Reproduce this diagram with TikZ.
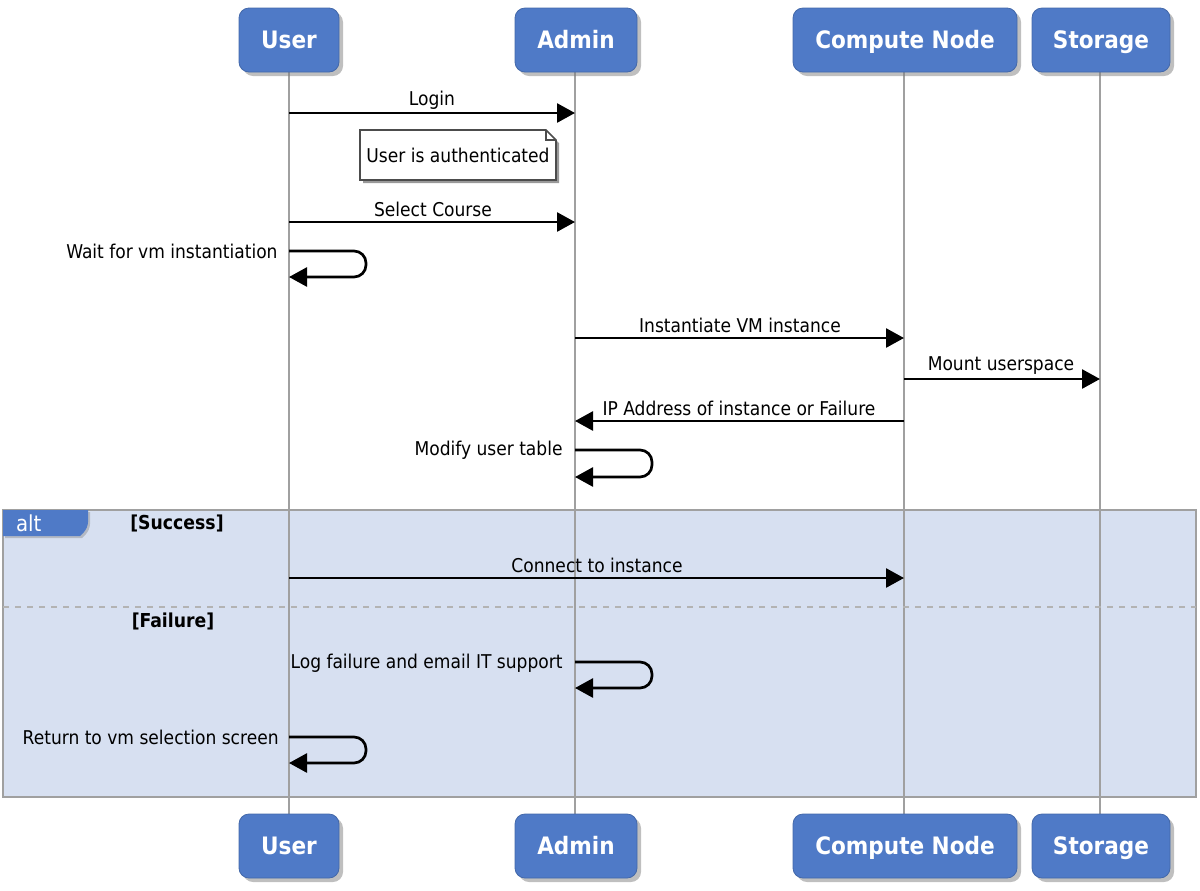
\documentclass[tikz,border=0pt]{standalone}
\usepackage{fontspec}
\setmainfont{DejaVu Sans Condensed}
\usetikzlibrary{arrows.meta,shadows}
\definecolor{boxblue}{HTML}{4F7AC7}
\definecolor{altfill}{HTML}{D7E0F1}
\definecolor{lifegray}{HTML}{A0A0A0}
\tikzset{
  actor/.style={draw=boxblue!85!black, fill=boxblue, rounded corners=5pt, minimum height=32pt, text=white, font=\fontsize{12}{14}\selectfont\bfseries, text height=11pt, text depth=2.5pt, drop shadow={opacity=0.5, shadow xshift=2pt, shadow yshift=-2pt}},
  msg/.style={line width=1.35pt, -{Triangle[length=9pt,width=9.5pt]}},
  lbl/.style={font=\fontsize{9.5}{11}\selectfont, inner sep=1pt},
  guard/.style={font=\fontsize{9.6}{11}\selectfont\bfseries},
  life/.style={draw=lifegray, line width=1pt},
}
\begin{document}
\begin{tikzpicture}[x=0.5pt,y=-0.5pt]
\useasboundingbox (0,0) rectangle (1200,890);
% alt frame
\fill[altfill] (3,510) rectangle (1196,797);
% lifelines
\coordinate (uT) at (289,72); \coordinate (uB) at (289,814);
\coordinate (aT) at (575,72); \coordinate (aB) at (575,814);
\coordinate (cT) at (904,72); \coordinate (cB) at (904,814);
\coordinate (sT) at (1100,72); \coordinate (sB) at (1100,814);
\draw[life] (uT) -- (uB); \draw[life] (aT) -- (aB);
\draw[life] (cT) -- (cB); \draw[life] (sT) -- (sB);
\draw[lifegray, line width=1.2pt] (3,510) rectangle (1196,797);
\draw[lifegray!80, dashed, line width=1pt] (3,607) -- (1196,607);
% alt tag
\fill[boxblue, drop shadow={opacity=0.4, shadow xshift=1pt, shadow yshift=-1pt}] (3,510) -- (88,510) [rounded corners=3pt] -- (88,528) [sharp corners]-- (80,536) -- (3,536) -- cycle;
\node[text=white, font=\fontsize{11}{12}\selectfont, anchor=west] (alt) at (9,523) {alt};
\node[guard] (succ) at (177,523) {[Success]};
\node[guard] (fail) at (173,621) {[Failure]};
% actors
\node[actor, minimum width=50pt] (u1) at (289,40) {User};
\node[actor, minimum width=61pt] (a1) at (576,40) {Admin};
\node[actor, minimum width=112pt] (c1) at (905,40) {Compute Node};
\node[actor, minimum width=69pt] (s1) at (1101,40) {Storage};
\node[actor, minimum width=50pt] (u2) at (289,846) {User};
\node[actor, minimum width=61pt] (a2) at (576,846) {Admin};
\node[actor, minimum width=112pt] (c2) at (905,846) {Compute Node};
\node[actor, minimum width=69pt] (s2) at (1101,846) {Storage};
% coordinates for messages
\coordinate (m1a) at (289,113); \coordinate (m1b) at (575,113);
\coordinate (m2a) at (289,222); \coordinate (m2b) at (575,222);
\coordinate (m3a) at (575,338); \coordinate (m3b) at (904,338);
\coordinate (m4a) at (904,379); \coordinate (m4b) at (1100,379);
\coordinate (m5a) at (904,421); \coordinate (m5b) at (575,421);
\coordinate (m6a) at (289,578); \coordinate (m6b) at (904,578);
% messages
\draw[msg] (m1a) -- (m1b);
\node[lbl] (l1) at (432,100) {Login};
\draw[msg] (m2a) -- (m2b);
\node[lbl] (l2) at (433,209) {Select Course};
\draw[msg] (m3a) -- (m3b);
\node[lbl] (l3) at (740,325) {Instantiate VM instance};
\draw[msg] (m4a) -- (m4b);
\node[lbl] (l4) at (1001,366) {Mount userspace};
\draw[msg] (m5a) -- (m5b);
\node[lbl] (l5) at (739,408) {IP Address of instance or Failure};
\draw[msg] (m6a) -- (m6b);
\node[lbl] (l6) at (597,565) {Connect to instance};
% note
\fill[black!40] (363,133) -- (549,133) -- (559,143) -- (559,183) -- (363,183) -- cycle;
\filldraw[fill=white, draw=black!70, line width=0.8pt] (360,130) -- (546,130) -- (556,140) -- (556,180) -- (360,180) -- cycle;
\draw[black!70, line width=0.8pt] (546,130) -- (546,140) -- (556,140);
\node[lbl] (note) at (458,155) {User is authenticated};
% self loops
\coordinate (s1a) at (289,251); \coordinate (s1b) at (289,277);
\draw[msg, rounded corners=6pt] (s1a) -- (366,251) -- (366,277) -- (s1b);
\node[lbl, anchor=east] (ls1) at (280,251) {Wait for vm instantiation};
\coordinate (s2a) at (575,450); \coordinate (s2b) at (575,477);
\draw[msg, rounded corners=6pt] (s2a) -- (652,450) -- (652,477) -- (s2b);
\node[lbl, anchor=east] (ls2) at (565,450) {Modify user table};
\coordinate (s3a) at (575,662); \coordinate (s3b) at (575,688);
\draw[msg, rounded corners=6pt] (s3a) -- (652,662) -- (652,688) -- (s3b);
\node[lbl, anchor=east] (ls3) at (565,663) {Log failure and email IT support};
\coordinate (s4a) at (289,737); \coordinate (s4b) at (289,763);
\draw[msg, rounded corners=6pt] (s4a) -- (366,737) -- (366,763) -- (s4b);
\node[lbl, anchor=east] (ls4) at (281,737) {Return to vm selection screen};
\end{tikzpicture}
\end{document}
